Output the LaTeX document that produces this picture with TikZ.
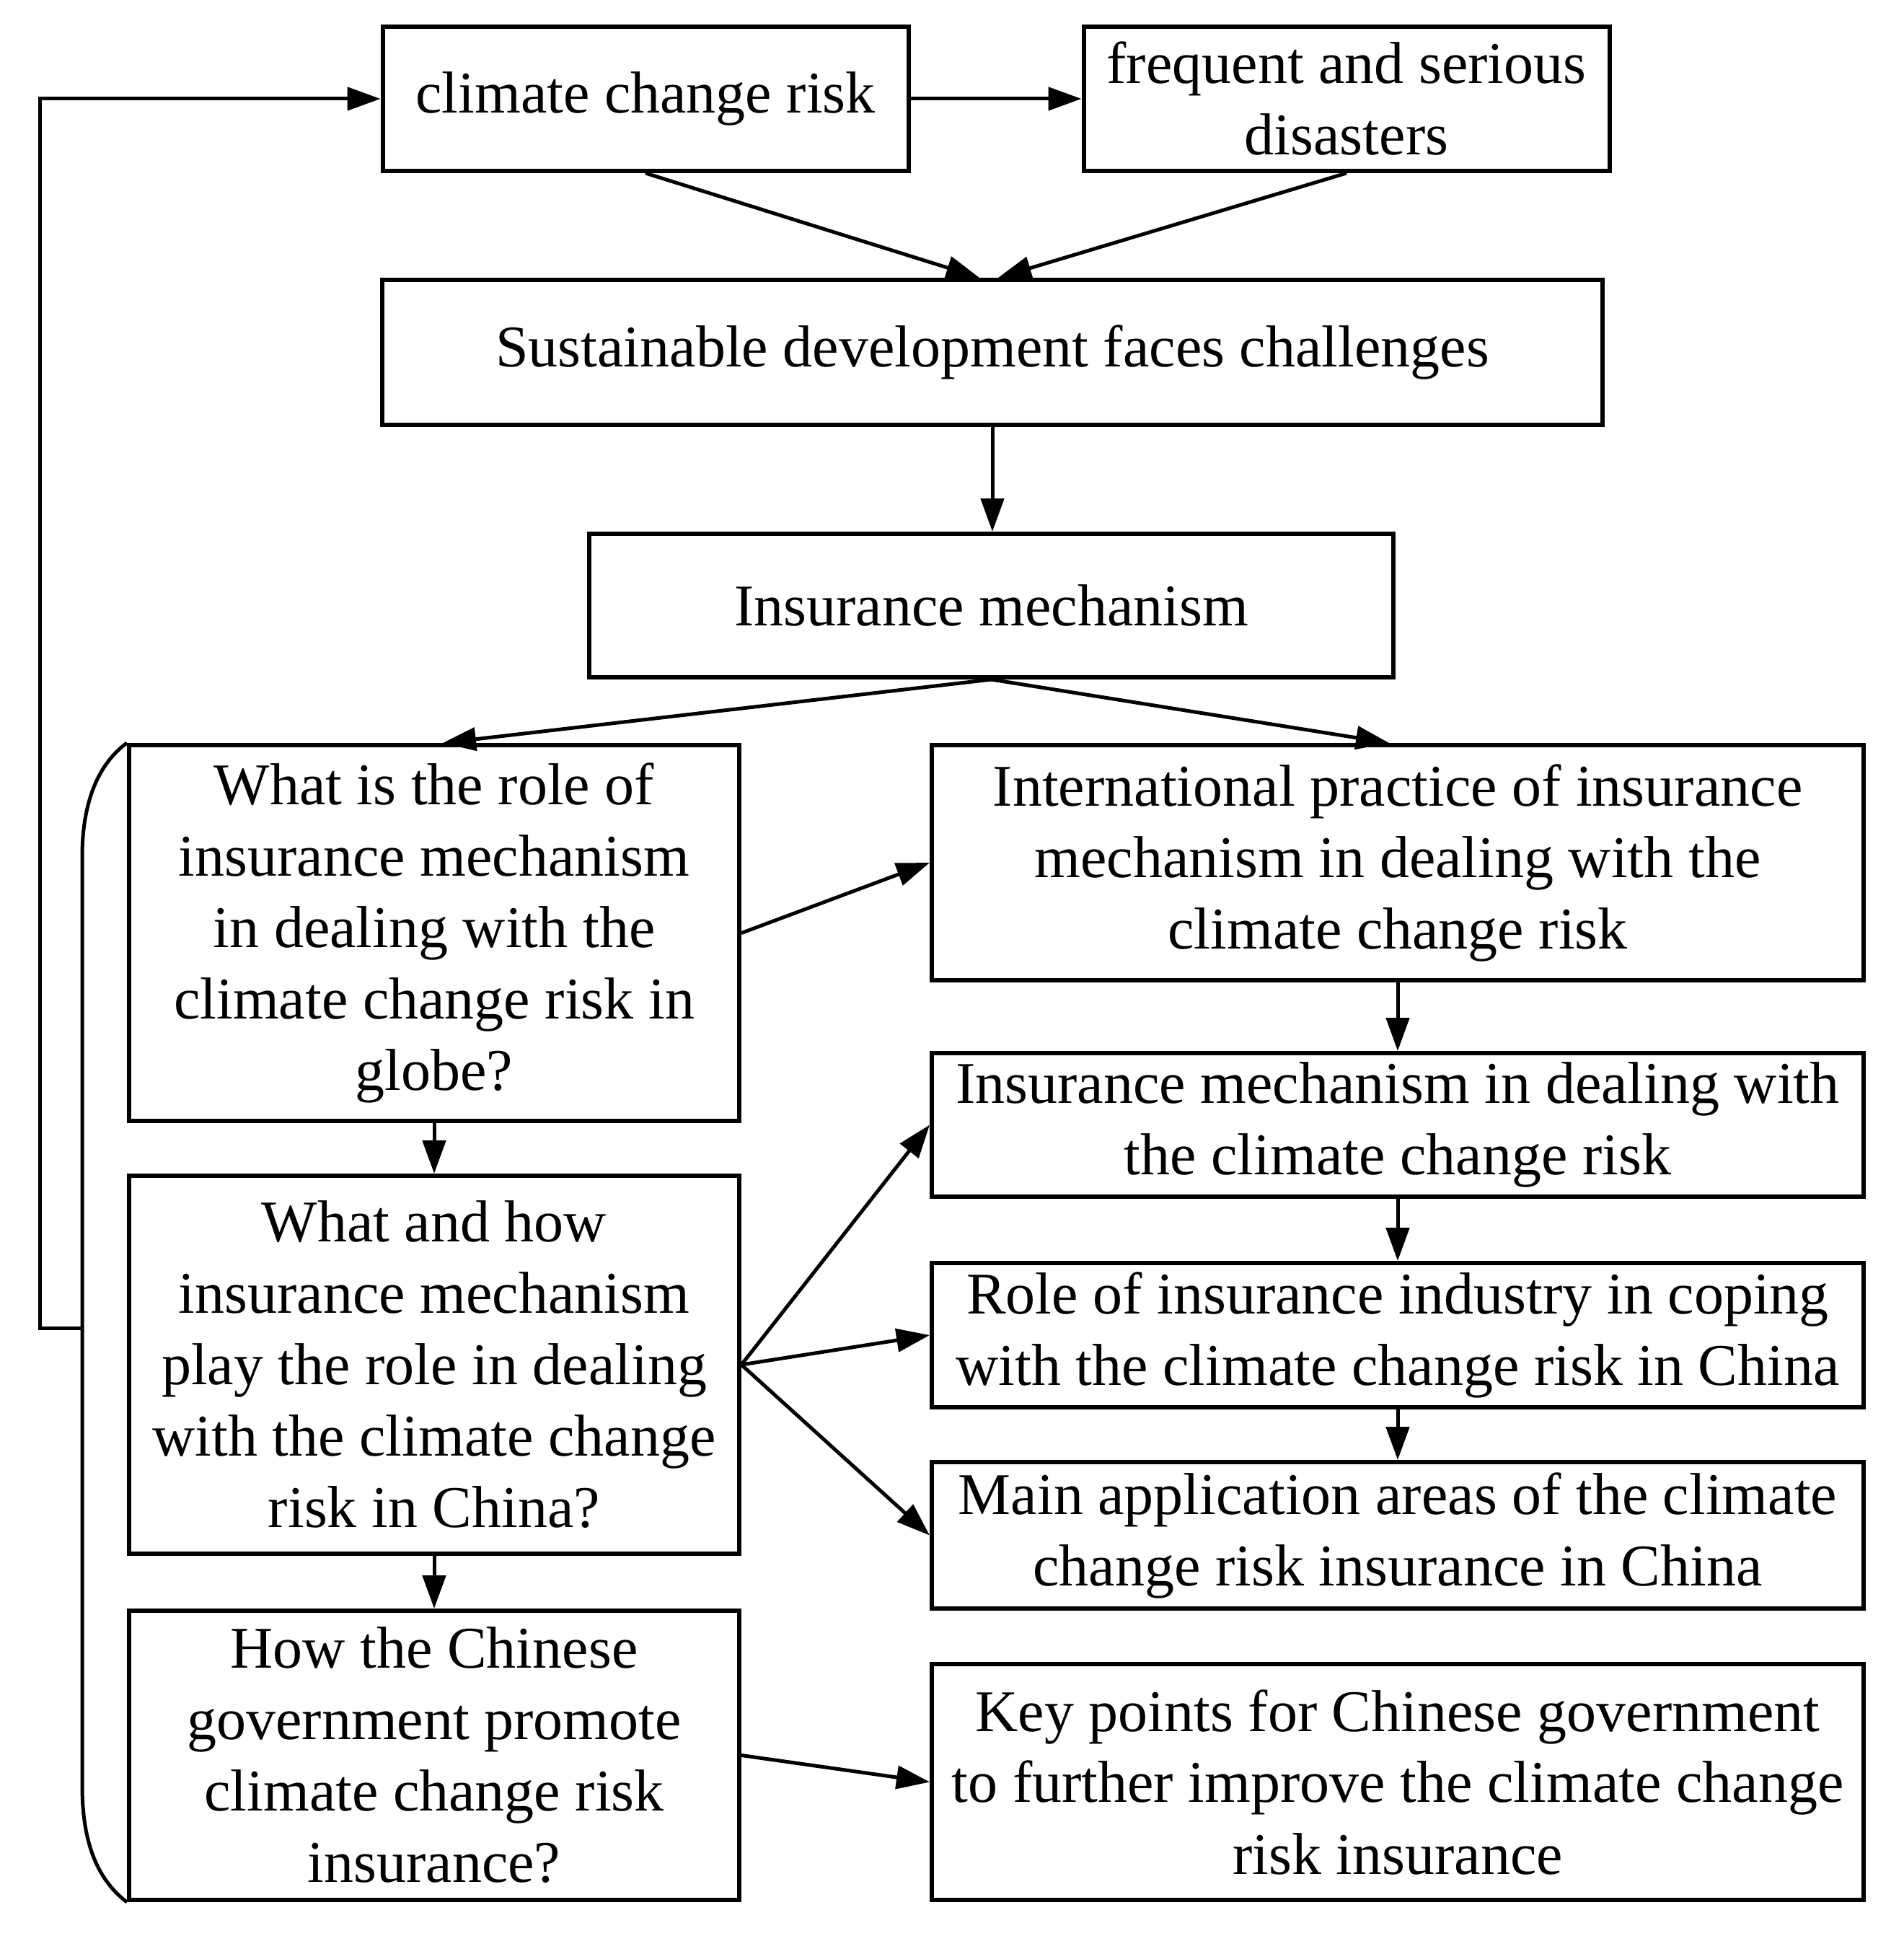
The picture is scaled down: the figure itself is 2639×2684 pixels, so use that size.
\documentclass[tikz,border=0pt]{standalone}
\usepackage{fontspec}
\setmainfont{Liberation Serif}
\usetikzlibrary{arrows.meta}
\begin{document}
\begin{tikzpicture}[x=0.25pt,y=-0.25pt,
  box/.style={draw=black, line width=1.5pt, align=center, inner sep=0pt,
    font=\fontsize{20.5}{24.75}\selectfont},
  arr/.style={line width=1.25pt, -{Triangle[length=11.5pt,width=8pt]}},
  plain/.style={line width=1.25pt}]
\useasboundingbox (0,0) rectangle (2639,2684);
% top row
\node[box, minimum width=182.25pt, minimum height=50pt] (b1) at (895,137) {climate change risk};
\node[box, minimum width=182.25pt, minimum height=50pt] (b2) at (1867,137) {frequent and serious\\disasters};
\node[box, minimum width=423pt, minimum height=50.25pt] (b3) at (1376,488.5) {Sustainable development faces challenges};
\node[box, minimum width=278.75pt, minimum height=49.75pt] (b4) at (1374.5,839.5) {Insurance mechanism};
% left column
\node[box, minimum width=211.5pt, minimum height=130.25pt] (l1) at (602,1293.5) {What is the role of\\insurance mechanism\\in dealing with the\\climate change risk in\\globe?};
\node[box, minimum width=211.5pt, minimum height=131pt] (l2) at (602,1892) {What and how\\insurance mechanism\\play the role in dealing\\with the climate change\\risk in China?};
\node[box, minimum width=211.5pt, minimum height=100.25pt] (l3) at (602,2433.5) {How the Chinese\\government promote\\climate change risk\\insurance?};
% right column
\node[box, minimum width=323pt, minimum height=81.5pt] (r1) at (1938,1196) {International practice of insurance\\mechanism in dealing with the\\climate change risk};
\node[box, minimum width=323pt, minimum height=49.75pt] (r2) at (1938,1559.5) {Insurance mechanism in dealing with\\the climate change risk};
\node[box, minimum width=323pt, minimum height=50pt] (r3) at (1938,1851) {Role of insurance industry in coping\\with the climate change risk in China};
\node[box, minimum width=323pt, minimum height=50.75pt] (r4) at (1938,2128.5) {Main application areas of the climate\\change risk insurance in China};
\node[box, minimum width=323pt, minimum height=81.75pt] (r5) at (1938,2470.5) {Key points for Chinese government\\to further improve the climate change\\risk insurance};
% connectors
\draw[arr] (b1) -- (b2);
\draw[arr] (b1.south) -- ([xshift=-4.5pt]b3.north);
\draw[arr] (b2.south) -- ([xshift=2pt]b3.north);
\draw[arr] (b3.south) -- (b3.south |- b4.north);
\draw[arr] (b4.south) -- ([xshift=3pt]l1.north);
\draw[arr] (b4.south) -- ([xshift=-3pt]r1.north);
\draw[arr] (l1.east) -- (r1.west);
\draw[arr] (l1.south) -- (l2.north);
\draw[arr] (l2.east) -- (r2.west);
\draw[arr] (l2.east) -- (r3.west);
\draw[arr] (l2.east) -- (r4.west);
\draw[arr] (l2.south) -- (l3.north);
\draw[arr] (l3.east) -- (r5.west);
\draw[arr] (r1.south) -- (r2.north);
\draw[arr] (r2.south) -- (r3.north);
\draw[arr] (r3.south) -- (r4.north);
% bracket and feedback loop
\coordinate (brt) at (114,1187);
\coordinate (brb) at (114,2476);
\coordinate (fb) at (114,1841);
\coordinate (fbl) at (55,1841);
\draw[plain] (l1.north west) .. controls (132,1062) and (114,1120) .. (brt) -- (brb) .. controls (114,2560) and (138,2608) .. (l3.south west);
\draw[arr] (fb) -- (fbl) |- (b1.west);
\end{tikzpicture}
\end{document}
